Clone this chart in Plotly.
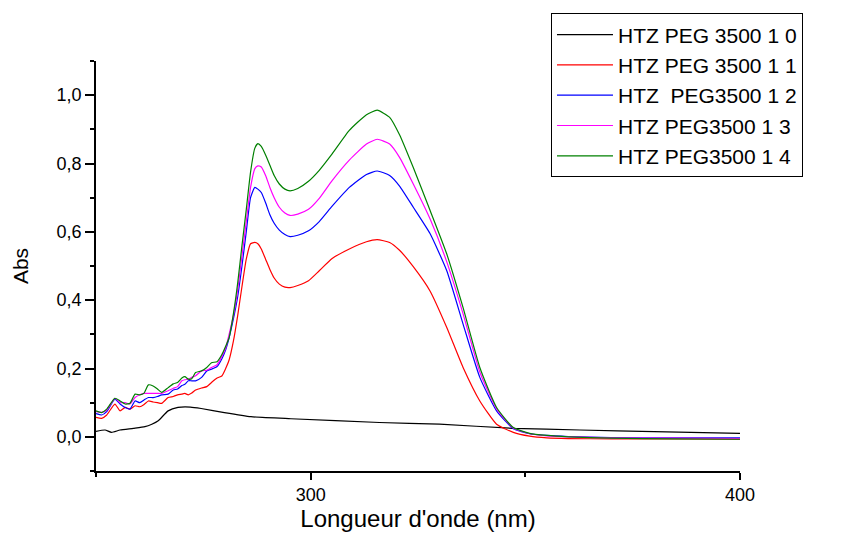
import plotly.graph_objects as go

# ---- data ----
wl_black = [250, 252.1, 253.6, 255.6, 258.7, 261.4, 263.0, 264.5, 266.8, 269.1, 272.0, 274.5,
            279.9, 286.1, 295.4, 316.0, 330.0, 347.0, 362.7, 380.0, 400.0]
abs_10 = [0.016, 0.020, 0.013, 0.020, 0.025, 0.030, 0.037, 0.047, 0.076, 0.086, 0.087, 0.083,
          0.071, 0.059, 0.053, 0.042, 0.037, 0.025, 0.020, 0.015, 0.010]

wl = [250, 251.3, 252.5, 254.4, 255.6, 256.8, 257.9, 259.1, 260.2, 261.2, 262.2, 263.3, 264.3,
      265.3, 266.8, 268.0, 269.0, 270.0, 270.7, 271.5, 272.3, 273.2, 274.6, 275.8, 276.9, 278.2,
      279.3, 280.2, 281.0, 282.0, 283.0, 284.0, 285.0, 286.0, 287.0, 287.7, 288.5, 289.5, 290.5,
      291.5, 292.7, 294.0, 295.2, 297.0, 299.5, 302, 305, 309, 313, 315.5, 318.4, 320.7, 323.9,
      327.8, 331.7, 335.5, 339.4, 343.3, 347.2, 351, 355, 360, 370, 385, 400]

abs_11 = [0.057, 0.054, 0.064, 0.096, 0.076, 0.086, 0.081, 0.091, 0.088, 0.095, 0.105, 0.102, 0.100,
          0.098, 0.115, 0.118, 0.123, 0.125, 0.127, 0.123, 0.128, 0.137, 0.143, 0.147, 0.159, 0.172,
          0.178, 0.200, 0.225, 0.280, 0.355, 0.440, 0.520, 0.565, 0.569, 0.565, 0.550, 0.520, 0.490,
          0.465, 0.447, 0.438, 0.437, 0.443, 0.457, 0.486, 0.522, 0.550, 0.571, 0.577, 0.569, 0.546,
          0.498, 0.427, 0.320, 0.203, 0.105, 0.037, 0.013, 0.002, -0.003, -0.005, -0.006, -0.006, -0.007]

abs_12 = [0.068, 0.064, 0.074, 0.110, 0.096, 0.086, 0.081, 0.105, 0.100, 0.108, 0.115, 0.115, 0.118,
          0.123, 0.125, 0.137, 0.140, 0.150, 0.154, 0.164, 0.164, 0.164, 0.174, 0.193, 0.198, 0.206,
          0.228, 0.255, 0.290, 0.345, 0.410, 0.500, 0.600, 0.700, 0.730, 0.725, 0.715, 0.685, 0.650,
          0.625, 0.605, 0.592, 0.586, 0.590, 0.603, 0.630, 0.675, 0.730, 0.768, 0.778, 0.765, 0.734,
          0.672, 0.595, 0.486, 0.330, 0.174, 0.076, 0.024, 0.009, 0.004, 0.001, -0.002, -0.003, -0.003]

abs_13 = [0.074, 0.072, 0.078, 0.113, 0.100, 0.100, 0.096, 0.115, 0.123, 0.127, 0.127, 0.127, 0.127,
          0.127, 0.135, 0.142, 0.147, 0.164, 0.167, 0.169, 0.174, 0.179, 0.193, 0.195, 0.203, 0.211,
          0.235, 0.260, 0.300, 0.355, 0.430, 0.530, 0.630, 0.730, 0.785, 0.793, 0.790, 0.765, 0.730,
          0.700, 0.672, 0.655, 0.648, 0.652, 0.666, 0.698, 0.750, 0.810, 0.857, 0.871, 0.857, 0.818,
          0.740, 0.638, 0.512, 0.360, 0.190, 0.082, 0.026, 0.009, 0.003, 0.000, -0.003, -0.004, -0.005]

abs_14 = [0.076, 0.071, 0.081, 0.113, 0.105, 0.096, 0.098, 0.125, 0.123, 0.128, 0.152, 0.149, 0.140,
          0.130, 0.144, 0.155, 0.159, 0.172, 0.176, 0.169, 0.170, 0.188, 0.193, 0.203, 0.217, 0.220,
          0.240, 0.265, 0.290, 0.360, 0.450, 0.560, 0.665, 0.775, 0.845, 0.858, 0.850, 0.825, 0.795,
          0.765, 0.740, 0.725, 0.720, 0.727, 0.748, 0.780, 0.828, 0.897, 0.943, 0.956, 0.935, 0.884,
          0.788, 0.663, 0.535, 0.378, 0.203, 0.086, 0.027, 0.010, 0.004, 0.000, -0.004, -0.006, -0.007]

names = ["HTZ PEG 3500 1 0", "HTZ PEG 3500 1 1", "HTZ\u00a0 PEG3500 1 2",
         "HTZ PEG3500 1 3", "HTZ PEG3500 1 4"]
colors = ["#000000", "#ff0000", "#0000ff", "#ff00ff", "#008000"]

fig = go.Figure()
series = [(wl_black, abs_10), (wl, abs_11), (wl, abs_12), (wl, abs_13), (wl, abs_14)]
for (xs, ys), name, col in zip(series, names, colors):
    fig.add_trace(go.Scatter(x=xs, y=ys, mode="lines", name=name,
                             line=dict(color=col, width=1.2, shape="spline", smoothing=0.5)))

font_family = "Liberation Sans, Arial, sans-serif"
fig.update_layout(
    width=846, height=538,
    margin=dict(l=96, r=106, t=61, b=67, autoexpand=False),
    plot_bgcolor="white", paper_bgcolor="white",
    separators=", ",
    font=dict(family=font_family, color="black", size=16),
    showlegend=True,
    legend=dict(x=0.7065, y=1.116, xanchor="left", yanchor="top",
                bordercolor="black", borderwidth=1, bgcolor="white",
                font=dict(size=21, family=font_family), tracegroupgap=0,
                itemwidth=56),
)
fig.update_xaxes(range=[250, 400], showline=True, linecolor="black", linewidth=1.5,
                 ticks="outside", ticklen=7, tickwidth=1.5, tickcolor="black",
                 tick0=0, dtick=100, showgrid=False, zeroline=False,
                 tickfont=dict(size=18),
                 minor=dict(dtick=50, ticklen=4, tickwidth=1.5, ticks="outside", tickcolor="black", showgrid=False),
                 title=dict(text="Longueur d'onde (nm)", font=dict(size=24), standoff=6))
fig.update_yaxes(range=[-0.1, 1.1], showline=True, linecolor="black", linewidth=1.5,
                 ticks="outside", ticklen=9, tickwidth=1.5, tickcolor="black",
                 tick0=0, dtick=0.2, tickformat=".1f", showgrid=False, zeroline=False,
                 tickfont=dict(size=18),
                 minor=dict(dtick=0.1, ticklen=4, tickwidth=1.5, ticks="outside", tickcolor="black", showgrid=False),
                 title=dict(text="Abs", font=dict(size=21), standoff=22))

fig.write_html("out.html")
